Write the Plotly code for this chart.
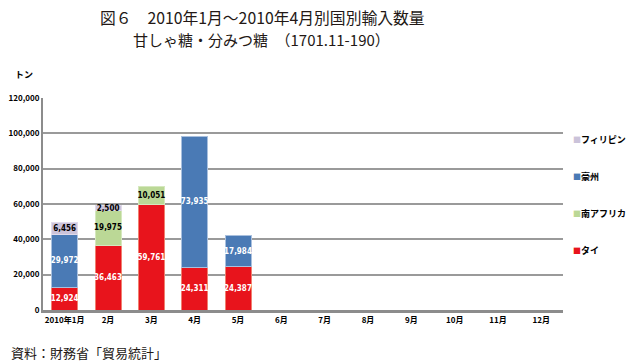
import plotly.graph_objects as go

months = ["2010年1月", "2月", "3月", "4月", "5月", "6月", "7月", "8月", "9月", "10月", "11月", "12月"]
thai = [12924, 36463, 59761, 24311, 24387, None, None, None, None, None, None, None]
south_africa = [None, 19975, 10051, None, None, None, None, None, None, None, None, None]
australia = [29972, None, None, 73935, 17984, None, None, None, None, None, None, None]
philippines = [6456, 2500, None, None, None, None, None, None, None, None, None, None]
y_ticks = [0, 20000, 40000, 60000, 80000, 100000, 120000]

FONT = "Noto Sans CJK JP"
LABEL_FONT = "Liberation Sans Narrow, DejaVu Sans Condensed, Noto Sans CJK JP"

def fmt(vals):
    return [f"{v:,}" if v else "" for v in vals]

series = [
    ("タイ", thai, "#E8141C", "#F08070", "white"),
    ("南アフリカ", south_africa, "#BBD896", "#D5E8BE", "black"),
    ("豪州", australia, "#4A7AB5", "#A9C0DE", "white"),
    ("フィリピン", philippines, "#CBC3DA", "#E0DAEA", "black"),
]

fig = go.Figure()
for name, vals, color, edge, tcol in series:
    fig.add_trace(go.Bar(
        x=months, y=vals, name=name, showlegend=False,
        marker=dict(color=color, line=dict(color=edge, width=1)),
        text=fmt(vals), textposition="inside", insidetextanchor="middle",
        textangle=0,
        textfont=dict(color=tcol, size=8, family=LABEL_FONT, weight="bold"),
        constraintext="none",
    ))
# legend entries, top to bottom as in the reference (small coloured square + name)
for i, (name, vals, color, edge, tcol) in enumerate(reversed(series)):
    fig.add_trace(go.Scatter(
        x=[None], y=[None], mode="markers", legendgroup=f"g{i}",
        name=f'<span style="font-size:8px;color:{color}">■</span>{name}',
        marker=dict(symbol="square", size=1, color="rgba(0,0,0,0)"),
        showlegend=True,
    ))

L, T, W, H = 43, 98, 520, 212
def px(x):
    return (x - L) / W
def py(y):
    return (T + H - y) / H

fig.update_layout(
    barmode="stack",
    bargap=0.4,
    width=639, height=364,
    margin=dict(l=L, r=639 - L - W, t=T, b=364 - T - H, autoexpand=False),
    paper_bgcolor="white", plot_bgcolor="white",
    font=dict(family=FONT, color="black"),
    showlegend=True,
    legend=dict(x=px(533), y=py(125), xanchor="left", yanchor="top",
                traceorder="grouped", itemsizing="trace",
                font=dict(size=9, family=FONT, weight="bold"), tracegroupgap=18,
                itemwidth=30, bgcolor="rgba(0,0,0,0)"),
    uniformtext=dict(minsize=7, mode="show"),
    annotations=[
        dict(text="図６　2010年1月～2010年4月別国別輸入数量", xref="paper", yref="paper",
             x=px(262), y=py(17), xanchor="center", yanchor="middle", showarrow=False,
             font=dict(size=15.8, family=FONT, color="#231815")),
        dict(text="甘しゃ糖・分みつ糖　（1701.11-190）", xref="paper", yref="paper",
             x=px(261), y=py(40), xanchor="center", yanchor="middle", showarrow=False,
             font=dict(size=15, family=FONT, color="#231815")),
        dict(text="トン", xref="paper", yref="paper", x=px(13), y=py(74),
             xanchor="left", yanchor="middle", showarrow=False,
             font=dict(size=9, family=FONT, weight="bold")),
        dict(text="資料：財務省「貿易統計」", xref="paper", yref="paper",
             x=px(9), y=py(352), xanchor="left", yanchor="middle", showarrow=False,
             font=dict(size=13, family=FONT, color="#231815")),
    ],
)
fig.update_xaxes(
    showline=True, linecolor="#8c8c8c", linewidth=3,
    tickfont=dict(size=8, family=FONT, weight="bold"), ticks="",
    range=[-0.5, 11.5],
)
fig.update_yaxes(
    range=[0, 120000], tickvals=y_ticks,
    tickformat=",", showgrid=True, gridcolor="#9a9a9a", gridwidth=1.5,
    showline=True, linecolor="#8c8c8c", linewidth=2,
    tickfont=dict(size=8, family=FONT, weight="bold"), ticks="", zeroline=False,
)

fig.write_html("out.html", config={"displayModeBar": False},
               post_script="document.body.style.margin='0px';document.body.style.overflow='hidden';")
